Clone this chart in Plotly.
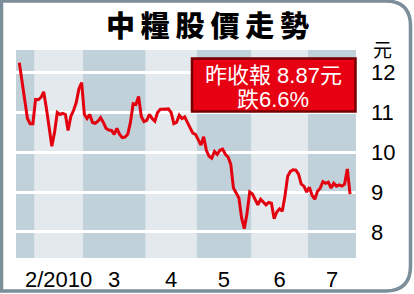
import plotly.graph_objects as go

title_text = "中糧股價走勢"
unit_text = "元"
note_lines = ["昨收報 8.87元", "跌6.6%"]
month_labels = ["2/2010", "3", "4", "5", "6", "7"]
# trading days shown per month: Jan (tail), Feb, Mar, Apr, May, Jun, Jul
month_days = [6, 18, 23, 19, 20, 21, 16]
y_ticks = [8, 9, 10, 11, 12]

prices_jan = [12.25, 11.8, 11.35, 10.85, 10.72, 10.72]
prices_feb = [11.33, 11.32, 11.38, 11.52, 11.1, 10.6, 10.15, 10.5, 11.0, 10.95,
              10.98, 10.95, 10.55, 10.9, 11.05, 11.25, 11.6, 11.75]
prices_mar = [10.95, 10.85, 10.95, 10.75, 10.73, 10.78, 10.87, 10.75, 10.6, 10.56,
              10.55, 10.45, 10.6, 10.45, 10.37, 10.38, 10.45, 10.75, 11.22, 11.2,
              11.4, 10.9, 10.77]
prices_apr = [10.8, 10.95, 10.85, 10.78, 11.0, 11.08, 11.08, 11.09, 11.09, 11.0,
              10.72, 10.75, 10.93, 10.85, 10.89, 10.75, 10.6, 10.48, 10.45]
prices_may = [10.3, 10.18, 10.39, 10.05, 9.9, 9.85, 10.02, 9.95, 10.05, 10.08,
              9.95, 9.88, 9.7, 9.1, 8.98, 8.85, 8.35, 8.08, 8.47, 9.0]
prices_jun = [8.95, 8.8, 8.68, 8.82, 8.75, 8.68, 8.74, 8.72, 8.33, 8.5,
              8.58, 8.52, 8.9, 9.4, 9.52, 9.56, 9.55, 9.45, 9.2, 9.15, 9.0]
prices_jul = [9.12, 8.92, 8.82, 9.02, 9.1, 9.26, 9.22, 9.25, 9.1, 9.22,
              9.15, 9.18, 9.15, 9.2, 9.58, 8.95]

prices = prices_jan + prices_feb + prices_mar + prices_apr + prices_may + prices_jun + prices_jul
x = list(range(len(prices)))

W, H = 414, 294
ML, MR, MT, MB = 16, 58, 50, 36
PW, PH = W - ML - MR, H - MT - MB
X_RANGE = [-1.22, 124.2]
Y_RANGE = [7.344, 12.57]

def px(p):
    return (p - ML) / PW

def py(p):
    return (H - MB - p) / PH

DARK = "#c1d1da"
LIGHT = "#e3e9ed"
RED = "#e3000f"
FRAME = "#7d8e9b"
TXT_FONT = "Liberation Sans Narrow, Arial Narrow, Liberation Sans, Arial, sans-serif"

# month boundaries in index units
bounds = [X_RANGE[0]]
acc = 0
for d in month_days[:-1]:
    acc += d
    bounds.append(acc - 0.5)
bounds.append(X_RANGE[1])

shapes = []
for i in range(len(month_days)):
    if i % 2 == 0:
        shapes.append(dict(type="rect", xref="x", yref="paper", x0=bounds[i], x1=bounds[i + 1],
                           y0=0, y1=1, fillcolor=DARK, line=dict(width=0), layer="below"))

tickvals = [(bounds[i] + bounds[i + 1]) / 2 for i in range(1, len(month_days))]

# note box
shapes.append(dict(type="rect", xref="paper", yref="paper", x0=px(192), x1=px(355.5),
                   y0=py(111.5), y1=py(58.5), fillcolor="#e60012",
                   line=dict(color="#750000", width=2.5), layer="above"))

# outer frame with rounded right corners
L, T, R, B, rad = 1.5, 1.0, 410.5, 291.0, 25
path = (f"M {px(L)},{py(T)} L {px(R - rad)},{py(T)} Q {px(R)},{py(T)} {px(R)},{py(T + rad)} "
        f"L {px(R)},{py(B - rad)} Q {px(R)},{py(B)} {px(R - rad)},{py(B)} "
        f"L {px(L)},{py(B)} Z")
shapes.append(dict(type="path", xref="paper", yref="paper", path=path,
                   line=dict(color=FRAME, width=3.5), layer="above"))

fig = go.Figure()
fig.add_trace(go.Scatter(x=x, y=prices, mode="lines",
                         line=dict(color=RED, width=3), hoverinfo="skip"))

note_font = dict(family="Liberation Sans, Noto Sans CJK TC", size=22, color="white")
annotations = [
    dict(text=note_lines[0], xref="paper", yref="paper", x=px(273), y=py(75),
         showarrow=False, xanchor="center", yanchor="middle", font=note_font),
    dict(text=note_lines[1], xref="paper", yref="paper", x=px(273), y=py(99),
         showarrow=False, xanchor="center", yanchor="middle", font=note_font),
    dict(text="\u2009".join(title_text), xref="paper", yref="paper", x=px(207), y=py(24),
         showarrow=False, xanchor="center", yanchor="middle",
         font=dict(family="Noto Sans CJK TC", size=29, color="black", weight=900)),
    dict(text=unit_text, xref="paper", yref="paper", x=px(382), y=py(48),
         showarrow=False, xanchor="center", yanchor="middle",
         font=dict(family="Noto Sans CJK TC", size=19, color="black")),
]

fig.update_layout(
    width=W, height=H,
    margin=dict(l=ML, r=MR, t=MT, b=MB, pad=0),
    paper_bgcolor="white", plot_bgcolor=LIGHT,
    showlegend=False,
    shapes=shapes,
    annotations=annotations,
    xaxis=dict(range=X_RANGE, showgrid=False, zeroline=False, showline=False,
               tickmode="array", tickvals=tickvals, ticktext=month_labels,
               ticks="", ticklabelstandoff=6, automargin=False,
               tickfont=dict(family=TXT_FONT, size=22, color="black"), fixedrange=True),
    yaxis=dict(range=Y_RANGE, side="right", showgrid=True, gridcolor="white", gridwidth=2.5,
               zeroline=False, showline=False, tickmode="array", tickvals=y_ticks,
               ticks="", ticklabelstandoff=14, automargin=False,
               tickfont=dict(family=TXT_FONT, size=22, color="black"), fixedrange=True),
)

fig.write_html("out.html", config={"displayModeBar": False})
